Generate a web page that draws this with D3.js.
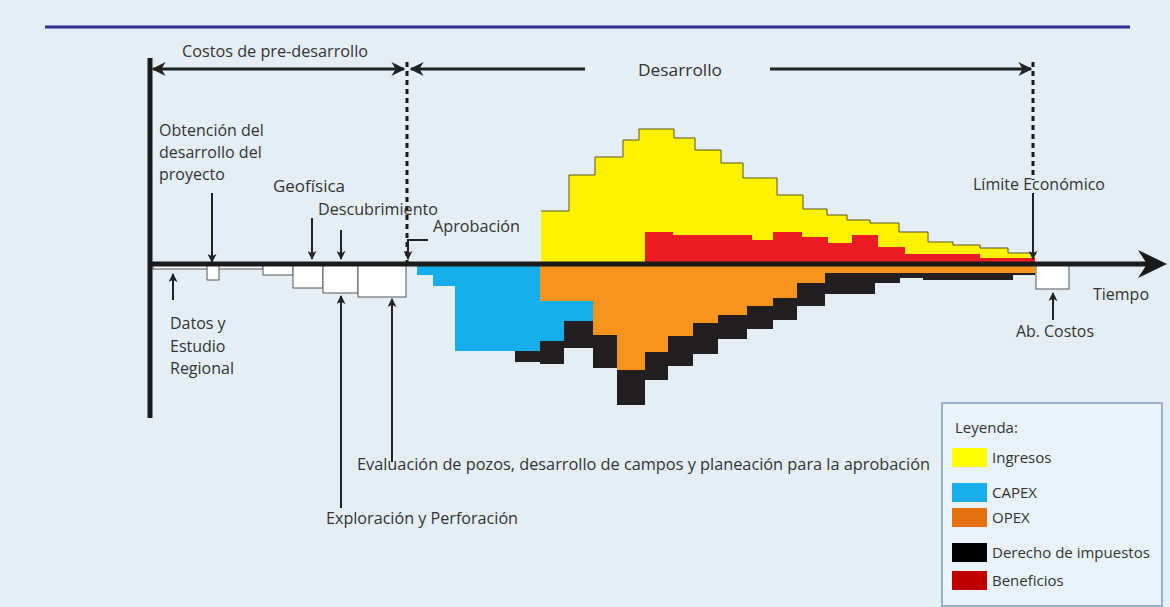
<html>
<head>
<meta charset="utf-8">
<script src="https://d3js.org/d3.v7.min.js"></script>
<style>
body { margin: 0; background: #e5eef5; }
text { font-family: "Open Sans", sans-serif; fill: #333; }
</style>
</head>
<body>
<svg id="chart" width="1170" height="607"></svg>
<script>
// tiempo (unidades arbitrarias) y montos
const ingresosT = [39.1, 41.9, 44.5, 47.3, 48.9, 52.4, 54.5, 57.1, 59.3, 62.7, 65.3, 67.7, 69.7, 72.0, 74.9, 77.8, 80.3, 83.0, 85.8, 88.5];
const ingresos  = [5.3, 8.9, 10.7, 12.4, 13.5, 12.6, 11.4, 10.1, 8.6, 6.9, 5.5, 4.9, 4.4, 4.1, 3.2, 2.2, 1.9, 1.6, 1.1];

const beneficiosT = [49.5, 52.3, 60.2, 62.3, 65.2, 67.8, 70.2, 72.8, 75.5, 83.0, 88.5];
const beneficios  = [3.2, 2.9, 2.4, 3.2, 2.7, 2.1, 2.9, 1.7, 1.0, 0.6];

const costosT = [26.7, 28.3, 30.5, 36.5, 39.0, 41.4, 44.3, 46.7, 49.5, 51.8, 54.3, 56.8, 59.7, 62.3, 64.7, 67.5, 72.5, 75.0, 77.3, 86.3, 88.5];
const opex    = [0, 0, 0, 0, 3.7, 3.7, 7.1, 10.6, 8.8, 7.2, 5.9, 5.1, 4.2, 3.4, 1.9, 0.9, 0.9, 0.9, 0.9, 0.9];
const capex   = [1.1, 2.2, 8.7, 8.7, 4.0, 2.0, 0, 0, 0, 0, 0, 0, 0, 0, 0, 0, 0, 0, 0, 0];
const derecho = [0, 0, 0, 1.1, 2.3, 2.7, 3.3, 3.5, 2.8, 3.0, 3.1, 2.4, 2.3, 2.2, 2.3, 2.1, 1.0, 0.5, 0.7, 0.2];

// costos de pre-desarrollo y abandono (cajas blancas)
const preInicio = [0.3, 5.7, 11.3, 14.3, 17.3, 20.8, 88.6];
const preFin    = [11.3, 6.9, 14.3, 17.3, 20.8, 25.6, 91.9];
const preCosto  = [0.5, 1.6, 1.1, 2.4, 2.9, 3.3, 2.5];

const leyenda = ["Ingresos", "CAPEX", "OPEX", "Derecho de impuestos", "Beneficios"];
const leyendaColor = ["#ffff00", "#19aeea", "#e4700f", "#000000", "#c00000"];

var svg = d3.select("#chart");

svg.append("rect").attr("width", 1170).attr("height", 607).attr("fill", "#e5eef5");

var x = d3.scaleLinear().domain([0, 100]).range([150, 1150]);
var y = d3.scaleLinear().domain([-14, 14]).range([404, 124]);

function steps(tArr, vArr) {
	var pts = vArr.map((v, i) => ({t: tArr[i], v: v}));
	pts.push({t: tArr[vArr.length], v: vArr[vArr.length - 1]});
	return pts;
}

var area = d3.area()
	.x(d => x(d.t))
	.y0(y(0))
	.y1(d => y(d.v))
	.curve(d3.curveStepAfter);

var topLine = d3.line()
	.x(d => x(d.t))
	.y(d => y(d.v))
	.curve(d3.curveStepAfter);

// ingresos
var ing = steps(ingresosT, ingresos);
svg.append("path").attr("d", area(ing)).attr("fill", "#fff200");
svg.append("path").attr("d", topLine(ing)).attr("fill", "none")
	.attr("stroke", "#5c5520").attr("stroke-width", 1);

// beneficios
svg.append("path").attr("d", area(steps(beneficiosT, beneficios))).attr("fill", "#ed1c24");

// costos apilados bajo el eje
var rows = opex.map((o, i) => ({t: costosT[i], opex: o, capex: capex[i], derecho: derecho[i]}));
rows.push(Object.assign({}, rows[rows.length - 1], {t: costosT[costosT.length - 1]}));

var keys = ["opex", "capex", "derecho"];
var colors = {opex: "#f7941d", capex: "#16aeea", derecho: "#231f20"};
var stacked = d3.stack().keys(keys)(rows);

var stackArea = d3.area()
	.x(d => x(d.data.t))
	.y0(d => y(-d[0]))
	.y1(d => y(-d[1]))
	.curve(d3.curveStepAfter);

svg.selectAll("path.layer")
	.data(stacked)
	.enter().append("path")
	.attr("class", "layer")
	.attr("fill", d => colors[d.key])
	.attr("d", stackArea);

// cajas blancas
svg.selectAll("rect.pre")
	.data(preCosto)
	.enter().append("rect")
	.attr("class", "pre")
	.attr("x", (d, i) => x(preInicio[i]))
	.attr("y", y(0))
	.attr("width", (d, i) => x(preFin[i]) - x(preInicio[i]))
	.attr("height", d => y(-d) - y(0))
	.attr("fill", "#fff")
	.attr("stroke", "#555")
	.attr("stroke-width", 1);

// marcadores de flecha
var defs = svg.append("defs");
defs.append("marker").attr("id", "ah")
	.attr("viewBox", "0 0 10 10").attr("refX", 9).attr("refY", 5)
	.attr("markerWidth", 9).attr("markerHeight", 9)
	.attr("markerUnits", "userSpaceOnUse")
	.attr("orient", "auto")
	.append("path").attr("d", "M0,0 L10,5 L0,10 L2.5,5 z").attr("fill", "#222");
defs.append("marker").attr("id", "big")
	.attr("viewBox", "0 0 10 10").attr("refX", 9).attr("refY", 5)
	.attr("markerWidth", 18).attr("markerHeight", 14)
	.attr("markerUnits", "userSpaceOnUse")
	.attr("orient", "auto")
	.append("path").attr("d", "M0,0 L10,5 L0,10 L3,5 z").attr("fill", "#222");

// linea azul superior
svg.append("line").attr("x1", 45).attr("x2", 1130).attr("y1", 27).attr("y2", 27)
	.attr("stroke", "#2e3192").attr("stroke-width", 3);

// eje vertical y eje del tiempo
svg.append("line").attr("x1", 150).attr("x2", 150).attr("y1", 58).attr("y2", 418)
	.attr("stroke", "#1a1a1a").attr("stroke-width", 5);
svg.append("line").attr("x1", 150).attr("x2", 1150).attr("y1", y(0)).attr("y2", y(0))
	.attr("stroke", "#1a1a1a").attr("stroke-width", 5);
svg.append("path")
	.attr("d", `M1167,${y(0)} L1138,${y(0) - 14} L1147,${y(0)} L1138,${y(0) + 14} Z`)
	.attr("fill", "#1a1a1a");

// lineas punteadas
[[407, 62, 262], [1033, 62, 180]].forEach(d => {
	svg.append("line").attr("x1", d[0]).attr("x2", d[0]).attr("y1", d[1]).attr("y2", d[2])
		.attr("stroke", "#1a1a1a").attr("stroke-width", 3).attr("stroke-dasharray", "5,4");
});

function arrow(pts, m, w) {
	svg.append("path")
		.attr("d", d3.line()(pts))
		.attr("fill", "none")
		.attr("stroke", "#222")
		.attr("stroke-width", w || 2)
		.attr("marker-end", `url(#${m || "ah"})`);
}

// flechas de fases
arrow([[280, 69], [153, 69]], "big", 3);
arrow([[280, 69], [404, 69]], "big", 3);
arrow([[585, 69], [411, 69]], "big", 3);
arrow([[770, 69], [1031, 69]], "big", 3);

// flechas de anotacion
arrow([[212, 193], [212, 262]]);
arrow([[312, 218], [312, 259]]);
arrow([[341, 230], [341, 259]]);
arrow([[428, 240], [408, 240], [408, 259]]);
arrow([[1033, 193], [1033, 259]]);
arrow([[173, 300], [173, 274]]);
arrow([[341, 508], [341, 296]]);
arrow([[392, 462], [392, 299]]);
arrow([[1053, 320], [1053, 293]]);

function label(lines, tx, ty, dy, anchor, len) {
	lines.forEach((s, i) => {
		var t = svg.append("text")
			.attr("x", tx).attr("y", ty + i * (dy || 0))
			.attr("text-anchor", anchor || "start")
			.style("font-size", "16px")
			.text(s);
		if (len) t.attr("textLength", len).attr("lengthAdjust", "spacingAndGlyphs");
	});
}

label(["Costos de pre-desarrollo"], 275, 57, 0, "middle", 186);
label(["Desarrollo"], 680, 76, 0, "middle", 84);
label(["Obtención del", "desarrollo del", "proyecto"], 159, 136, 22);
label(["Geofísica"], 273, 192, 0, "start", 72);
label(["Descubrimiento"], 318, 215, 0, "start", 120);
label(["Aprobación"], 433, 232, 0, "start", 87);
label(["Límite Económico"], 973, 190, 0, "start", 132);
label(["Tiempo"], 1093, 300, 0, "start", 56);
label(["Ab. Costos"], 1016, 337, 0, "start", 78);
label(["Datos y", "Estudio", "Regional"], 170, 329, 22.5);
label(["Evaluación de pozos,  desarrollo de campos y planeación para la aprobación"], 357, 470, 0, "start", 573);
label(["Exploración y Perforación"], 326, 524, 0, "start", 192);

// leyenda
var lg = svg.append("g");
lg.append("rect").attr("x", 942).attr("y", 403).attr("width", 220).attr("height", 203)
	.attr("fill", "#e9f2f9").attr("stroke", "#7f9cb8").attr("stroke-width", 1.5);
lg.append("text").attr("x", 955).attr("y", 433).style("font-size", "15px").text("Leyenda:");
var item = lg.selectAll("g.item")
	.data(leyenda)
	.enter().append("g")
	.attr("class", "item")
	.attr("transform", (d, i) => `translate(952,${[448, 483, 508, 543, 571][i]})`);
item.append("rect").attr("width", 35).attr("height", 19).attr("fill", (d, i) => leyendaColor[i]);
item.append("text").attr("x", 40).attr("y", 15).style("font-size", "15px").text(d => d);
</script>
</body>
</html>
